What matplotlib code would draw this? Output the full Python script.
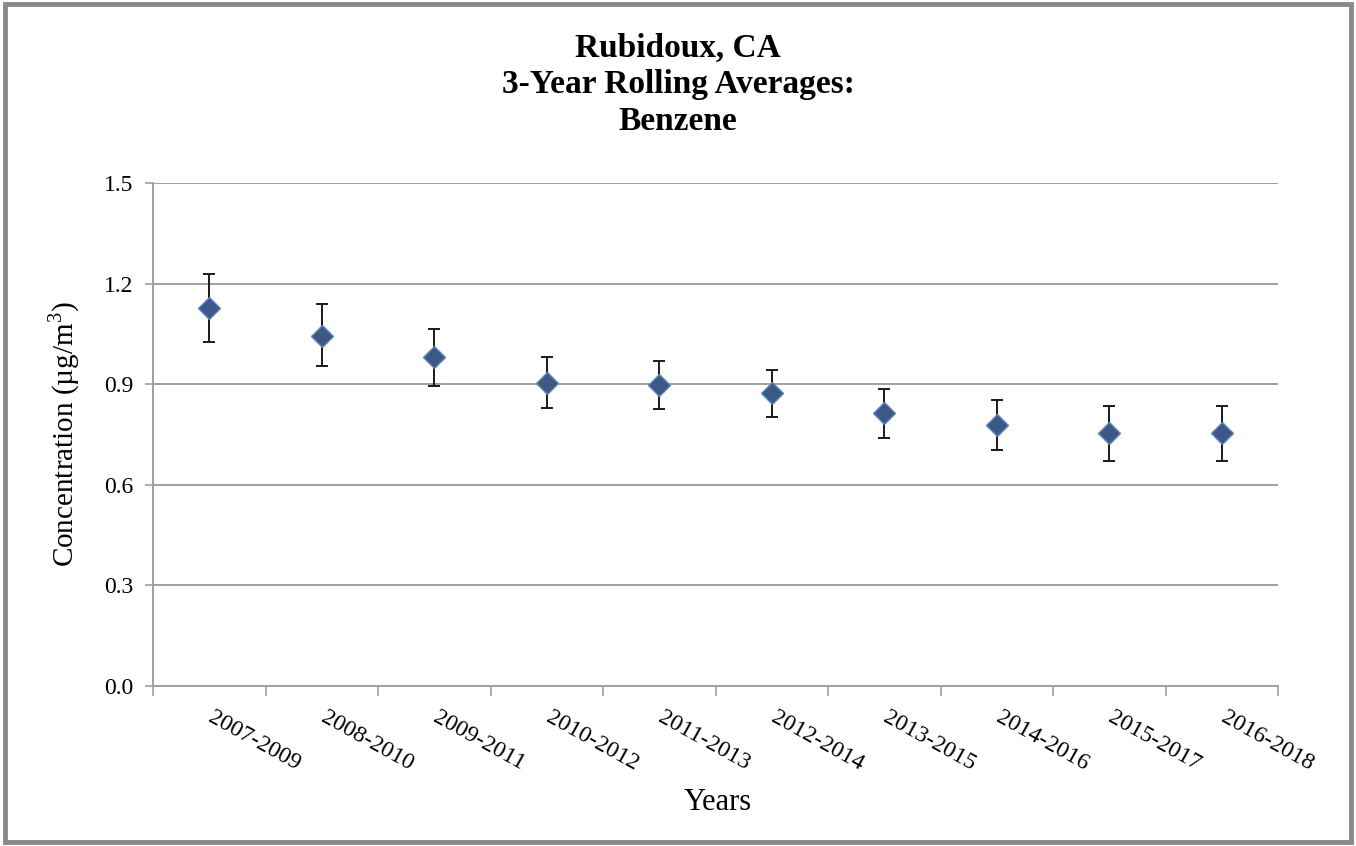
import matplotlib
matplotlib.use("Agg")
import matplotlib.pyplot as plt
from matplotlib.patches import Rectangle
import numpy as np

categories = ["2007-2009", "2008-2010", "2009-2011", "2010-2012", "2011-2013",
              "2012-2014", "2013-2015", "2014-2016", "2015-2017", "2016-2018"]
means = [1.127, 1.044, 0.980, 0.905, 0.898, 0.873, 0.813, 0.778, 0.754, 0.754]
upper = [1.229, 1.138, 1.066, 0.980, 0.970, 0.943, 0.886, 0.853, 0.836, 0.836]
lower = [1.026, 0.954, 0.894, 0.829, 0.825, 0.801, 0.741, 0.704, 0.671, 0.671]
yticks = [0.0, 0.3, 0.6, 0.9, 1.2, 1.5]

plt.rcParams['font.family'] = ['Liberation Serif', 'DejaVu Serif']
plt.rcParams['mathtext.fontset'] = 'custom'
plt.rcParams['mathtext.rm'] = 'Liberation Serif'

fig = plt.figure(figsize=(13.56, 8.46), dpi=100)
fig.patch.set_facecolor('white')
fig.patches.append(Rectangle((0.0035, 0.005), 0.993, 0.99, transform=fig.transFigure,
                             fill=False, edgecolor='#8a8a8a', linewidth=3.5))

ax = fig.add_axes([153/1356, 1 - 686/846, 1125/1356, 503/846])

x = np.arange(len(categories))
m = np.array(means)
yerr = np.vstack([m - np.array(lower), np.array(upper) - m])
ax.errorbar(x, m, yerr=yerr, fmt='none', ecolor='#1a1a1a', elinewidth=1.4,
            capsize=4.5, capthick=1.4, zorder=3)
ax.plot(x, m, linestyle='none', marker='D', markersize=11, markerfacecolor='#3C5884',
        markeredgecolor='#5A86C2', markeredgewidth=1.0, zorder=4)

ax.set_xlim(-0.5, len(categories) - 0.5)
ax.set_ylim(0, 1.5)
ax.set_yticks(yticks)
ax.set_yticklabels([f"{v:.1f}" for v in yticks], fontsize=17)
ax.yaxis.grid(True, color='#a0a0a0', linewidth=1.4)
ax.set_axisbelow(True)

ax.set_xticks(np.arange(len(categories) + 1) - 0.5)
ax.set_xticklabels([])
ax.tick_params(axis='x', length=7, width=1.2, color='#a0a0a0', direction='out')
ax.tick_params(axis='y', length=6, width=1.2, color='#a0a0a0', direction='out', pad=8)

for i, c in enumerate(categories):
    ax.annotate(c, xy=(i, 0), xycoords=('data', 'axes fraction'),
                xytext=(4, -15), textcoords='offset points',
                rotation=-29, rotation_mode='anchor', ha='left', va='top',
                fontsize=17)

for s in ['top', 'right']:
    ax.spines[s].set_visible(False)
for s in ['left', 'bottom']:
    ax.spines[s].set_color('#a0a0a0')
    ax.spines[s].set_linewidth(1.4)

ax.set_ylabel('Concentration (µg/m$^3$)', fontsize=21, labelpad=16)
fig.text(718/1356, 1 - 802/846, 'Years', fontsize=22, ha='center', va='center')

fig.text(0.5, 1 - 33/846, 'Rubidoux, CA\n3-Year Rolling Averages:\nBenzene', fontsize=24,
         fontweight='bold', ha='center', va='top', linespacing=1.22)

fig.savefig('out.png', dpi=100, facecolor='white')
